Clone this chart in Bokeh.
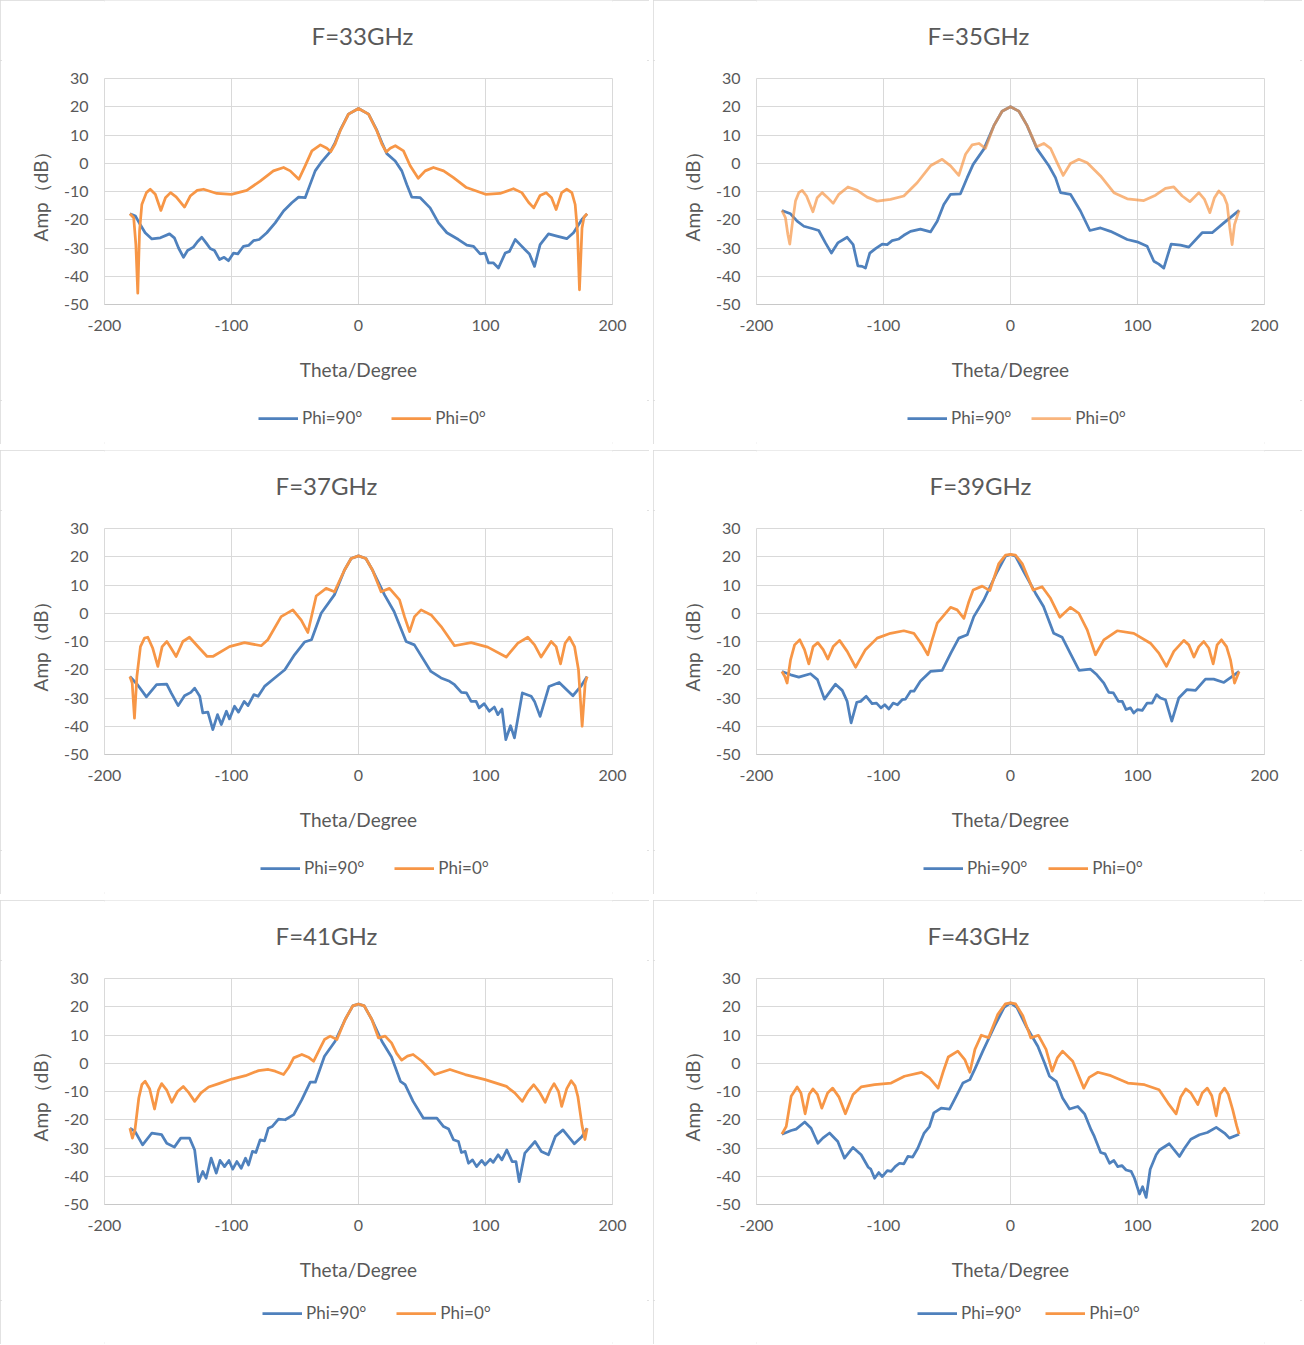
from bokeh.plotting import figure
from bokeh.models import Range1d, FixedTicker, Legend, LegendItem, Label
from bokeh.layouts import column, row
from bokeh.embed import file_html
from bokeh.resources import INLINE

# ---------------- data ----------------
X_TICKS = [-200, -100, 0, 100, 200]
Y_TICKS = [-50, -40, -30, -20, -10, 0, 10, 20, 30]
TITLES = ["F=33GHz", "F=35GHz", "F=37GHz", "F=39GHz", "F=41GHz", "F=43GHz"]
SERIES_NAMES = ["Phi=90°", "Phi=0°"]

# F = 33 GHz
theta_33_phi90 = [-180, -175.6, -171.9, -168, -162.7, -156, -148.8, -145, -141.7, -137.8,
                  -134.6, -130, -126.8, -123.4, -120, -116.8, -113.4, -109.4, -105.8, -102.4,
                  -98.4, -95, -90.6, -86.6, -82.7, -78.2, -72.2, -65.6, -59, -52.5,
                  -47.2, -42, -38.6, -34.1, -28.9, -22.3, -18.4, -14.4, -7.9, 0,
                  7.9, 14.4, 18.4, 22.3, 28.9, 34.1, 38, 42, 48.6, 56.4,
                  63, 69.6, 78.7, 85.3, 90.6, 95.8, 99.7, 102.4, 106.3, 110.2,
                  115.5, 118.9, 123.4, 127.3, 131.2, 134.6, 138.6, 143, 149.6, 156.2,
                  164, 169.3, 175.9, 180]
amp_33_phi90 = [-17.9, -18.7, -21.7, -24.6, -26.8, -26.4, -25, -26.4, -30, -33.3,
                -30.9, -29.7, -27.8, -26.2, -28.2, -30.2, -30.9, -34.1, -33.3, -34.5,
                -31.8, -32.1, -29.4, -29.1, -27.4, -27, -24.6, -21.1, -16.9, -14,
                -12, -12.2, -8.1, -2.7, 0.6, 4, 7.3, 11.7, 17.4, 19.4,
                17.4, 11.7, 7.3, 3.4, 0.8, -2.7, -7.5, -12, -12.2, -15.8,
                -21.1, -24.6, -27, -29, -29.4, -32.1, -31.8, -35.3, -35.3, -37.1,
                -31.8, -31.2, -27, -28.8, -30.6, -32.1, -36.5, -28.8, -25, -25.8,
                -26.7, -24.6, -19.9, -17.9]
theta_33_phi0 = [-180, -177, -175.3, -173.8, -172.4, -170.6, -167, -164, -160, -155.6,
                 -152, -148, -143.6, -137, -132.5, -127, -122, -111.5, -100, -88,
                 -77.4, -67, -59, -53.8, -47, -42, -36.7, -30, -24.9, -21.8,
                 -18.4, -14.4, -7.9, 0, 7.9, 14.4, 18.4, 21.8, 25, 29,
                 35.4, 40.7, 47, 52.5, 59, 67, 74.8, 85, 100, 111.5,
                 122, 128.6, 134, 138, 143, 147.8, 152, 155.6, 160, 164,
                 168, 170.6, 172.4, 174, 176, 177.6, 180]
amp_33_phi0 = [-17.9, -19.3, -28.8, -46, -24, -14.6, -10.4, -9.2, -11, -16.7,
               -12.2, -10.4, -11.9, -15.5, -11.6, -9.6, -9.2, -10.7, -11, -9.6,
               -6.3, -2.7, -1.5, -2.7, -5.7, -0.9, 4.4, 6.5, 5.3, 4.1,
               6.8, 11.5, 17.4, 19.4, 17.4, 11.5, 6.8, 4.0, 5.3, 6.2,
               4.4, -0.9, -5.3, -2.7, -1.5, -2.7, -5.1, -8.6, -11, -10.7,
               -9, -10.4, -13.9, -15.8, -11.4, -10.4, -12.2, -16.4, -10.4, -9.2,
               -10.4, -14.6, -24, -44.8, -22.9, -19, -17.9]

# F = 35 GHz
theta_35_phi90 = [-180, -173.2, -168, -162.7, -156.2, -151, -145.7, -141, -136, -128.6,
                  -123.9, -120.2, -116.8, -114.2, -110.8, -106.3, -101, -97.1, -93.2, -87.9,
                  -84, -78.7, -70.9, -63, -57.7, -52.5, -47.2, -39.4, -34.1, -29.4,
                  -21, -13.1, -6.6, 0, 6.6, 13.1, 21, 30.2, 35.4, 39.4,
                  47.2, 55.1, 62.5, 70.9, 78.7, 84, 91.9, 99.7, 107.6, 112.9,
                  116.8, 120.7, 126.5, 133.9, 140.4, 150.9, 158.8, 168, 180]
amp_35_phi90 = [-16.7, -17.9, -20.5, -22.3, -23.1, -23.8, -28.2, -31.8, -28.2, -26.2,
                -28.8, -36.3, -36.5, -37.1, -31.8, -30.2, -28.6, -28.8, -27.4, -26.8,
                -25.5, -24.1, -23.3, -24.3, -20.5, -14.6, -11, -10.8, -5.1, -0.4,
                5, 13.3, 18.4, 20, 18.4, 13.3, 5, -0.9, -5.1, -10.4,
                -11, -16.9, -23.8, -22.9, -24.1, -25.2, -27, -27.8, -29.4, -34.7,
                -35.7, -37.1, -28.6, -29, -29.7, -24.6, -24.6, -21.1, -16.7]
theta_35_phi0 = [-180, -177.2, -175.3, -173.8, -171.9, -169.3, -166.7, -164, -160.6, -155.6,
                 -152.2, -148.3, -144.4, -139.6, -135.2, -128, -120.7, -112.9, -105, -94.5,
                 -84, -73.5, -63, -53.8, -47.2, -40.7, -35.4, -30.2, -24.9, -19.7,
                 -13.1, -6.6, 0, 6.6, 13.1, 20.5, 26.2, 31.5, 36.7, 41.5,
                 47.2, 53.8, 60.4, 70.9, 81.4, 91.9, 105, 114.2, 122, 128.6,
                 135.2, 141.2, 148.3, 152.8, 157, 160.6, 164, 168, 170.6, 172.7,
                 174.5, 176.4, 180]
amp_35_phi0 = [-16.7, -19.3, -25.2, -28.6, -21.7, -13.4, -10.4, -9.6, -11.6, -17.2,
               -12.2, -10.4, -12, -14.2, -11, -8.4, -9.6, -12, -13.4, -12.8,
               -11.6, -6.9, -0.9, 1.4, -0.9, -4.3, 3.2, 6.5, 7, 5.3,
               13.3, 18.4, 20, 18.4, 13.3, 5.8, 7, 5.3, 0.2, -4.3,
               -0.1, 1.4, 0.2, -4.5, -10.4, -12.6, -13.2, -11.3, -8.9, -8.4,
               -11.6, -13.6, -10.4, -12.8, -17.5, -12.2, -9.8, -11.6, -14.6, -22.9,
               -28.8, -21.7, -16.7]

# F = 37 GHz
theta_37_phi90 = [-180, -174, -167, -159, -151, -147.5, -142, -137, -132, -129,
                  -125, -122.6, -118.6, -114.7, -111, -108, -104, -101.6, -97.6, -94.5,
                  -90, -87, -82.4, -79, -74, -66, -58, -50.4, -42.5, -37,
                  -29.4, -19, -11, -5.8, 0, 5.8, 11, 20.5, 28, 37.5,
                  44, 57, 65, 71.7, 75.6, 81, 85, 88.7, 92.6, 95,
                  99, 103, 107, 109.7, 113, 116, 119.7, 122.8, 129, 136,
                  138.6, 143, 150, 158, 168.8, 175, 180]
amp_37_phi90 = [-22.4, -25.3, -29.6, -25.3, -25.1, -28.2, -32.7, -29.2, -28, -26.5,
                -29.4, -35.3, -35, -41.2, -35.9, -39.4, -34.7, -37.4, -32.9, -35,
                -31.2, -32.7, -28.8, -29.4, -25.9, -22.9, -20, -14.7, -10.2, -9.4,
                0, 6.5, 15.3, 19.4, 20.3, 19.4, 15.3, 6.5, 0.6, -10,
                -11.2, -20.6, -22.9, -24.1, -25.3, -28, -28.2, -31.2, -31.2, -33.5,
                -32, -34.7, -33.2, -35.9, -33.9, -44.7, -39.8, -44.1, -28.2, -29.4,
                -31.2, -36.5, -25.9, -24.5, -29.2, -25.9, -22.4]
theta_37_phi0 = [-180, -178.2, -176.4, -174.5, -171.7, -168.5, -165.9, -162, -158, -154.6,
                 -150.9, -147.5, -143.6, -138.3, -133.1, -125.2, -119.2, -114.7, -101.6, -89.8,
                 -76.6, -71.4, -60.9, -51.7, -45.1, -39.9, -33.3, -25.5, -18.9, -11,
                 -5.8, 0, 5.8, 11, 17.8, 24.4, 32.3, 36.2, 40.2, 44.1,
                 49.3, 57.2, 65.1, 75.6, 88.7, 101.8, 116.3, 125.5, 133.3, 138.6,
                 143.8, 151.7, 155.6, 159.1, 162.7, 166.1, 170.1, 173.2, 176.1, 178.5,
                 180]
amp_37_phi0 = [-22.4, -24.7, -37.1, -22.4, -11.8, -8.8, -8.5, -12.4, -18.8, -11.8,
               -10, -12.4, -15.3, -10, -8.5, -12.4, -15.3, -15.3, -11.8, -10.4,
               -11.5, -9.4, -1.2, 1.2, -2.4, -6.8, 6.1, 8.8, 7.6, 15.3,
               19.4, 20.3, 19.4, 15.3, 7.6, 8.8, 4.7, -1.2, -6.5, -1.2,
               1.2, -0.6, -4.7, -11.5, -10.4, -12, -15.5, -10.6, -8.5, -11.2,
               -15.5, -10, -11.8, -17.9, -10.6, -8.5, -11.8, -20, -40, -24.7,
               -22.4]

# F = 39 GHz
theta_39_phi90 = [-180, -173, -166.7, -157.5, -152, -146.5, -137.8, -132.5, -128.6, -125.5,
                  -121, -118, -113.6, -109, -105.5, -102, -99, -95.8, -92.4, -89,
                  -85.3, -82.7, -78.7, -76, -71, -63, -53.8, -47, -40.7, -34,
                  -28.9, -21, -10.5, -3.9, 0, 3.9, 10.5, 19.7, 26, 34,
                  40.7, 47, 54, 63, 68, 73.5, 77.4, 81, 85, 88,
                  91, 94.5, 97, 100, 103.7, 107.6, 111.5, 115, 118, 122,
                  127, 132.5, 139, 145.7, 153.5, 160, 168, 173, 180]
amp_39_phi90 = [-20.6, -21.8, -22.6, -21.4, -23.5, -30.4, -25.1, -27.3, -31.2, -38.8,
                -31.5, -31.2, -29.4, -32, -31.8, -33.5, -32.4, -33.9, -31.8, -32.4,
                -30.6, -30.4, -27.6, -27.6, -24.1, -20.6, -20.2, -14.1, -8.8, -7.6,
                -1.2, 4.7, 14.7, 20.2, 20.8, 20.2, 14.7, 7.1, 2.4, -7.1,
                -8.5, -14.1, -20.2, -19.8, -21.8, -24.7, -28, -28.2, -31.2, -31.2,
                -34.1, -33.5, -35.3, -34.1, -34.4, -31.8, -31.8, -28.8, -30, -30.6,
                -38.2, -30, -27, -27.3, -23.3, -23.3, -24.5, -22.9, -20.6]
theta_39_phi0 = [-180, -177.7, -175.9, -173.2, -170, -165.9, -162.2, -158.8, -155.4, -151.7,
                 -147.5, -143.8, -139.6, -134.6, -128.6, -122, -114.2, -105, -94.5, -84,
                 -76.1, -69.6, -65.1, -61.7, -57.7, -47.2, -42, -36.7, -32.8, -29.4,
                 -22.3, -16.3, -9.2, -3.9, 0, 3.9, 9.2, 17.8, 24.9, 31.5,
                 38.8, 47.2, 53.8, 60.4, 66.9, 73.5, 84, 97.1, 110.2, 116.8,
                 122.8, 128.6, 136.5, 140.4, 144.4, 148.3, 152.2, 156.2, 159.6, 162.7,
                 166.1, 170.1, 173.2, 176.4, 180]
amp_39_phi0 = [-20.6, -22.4, -24.7, -16.5, -11.2, -9.4, -12.9, -17.9, -11.8, -10.4,
               -12.9, -16.2, -11.8, -9.6, -13.5, -19.1, -12.9, -8.8, -7.1, -6.2,
               -7.1, -11.2, -14.7, -9.4, -3.5, 2.1, 1.2, -1.8, 4.1, 8.2,
               9.6, 8, 17.6, 20.6, 20.8, 20.6, 17.6, 8.2, 9.4, 5.3,
               -1.4, 2.1, 0, -5.9, -14.7, -9.4, -6.2, -7.1, -10.6, -14.1,
               -18.8, -13.5, -9.6, -11.2, -15.5, -11.8, -10, -12.4, -17.9, -11.2,
               -9.4, -11.8, -16.5, -24.7, -20.6]

# F = 41 GHz
theta_41_phi90 = [-180, -176, -170, -162.7, -155, -151, -145, -140, -133, -129,
                  -126, -122.6, -120, -116, -112, -109, -105.5, -102, -99, -95.8,
                  -92.4, -89, -86.6, -83.5, -80.8, -77.4, -74, -71, -68, -63,
                  -57.7, -51, -44.6, -38, -34, -26.8, -18.4, -10.5, -4.5, 0,
                  4.5, 10.5, 18.4, 26, 33, 36.7, 43, 51, 61.7, 67,
                  71, 74.8, 78.7, 81, 84, 86.6, 89.8, 93, 97, 99.7,
                  103.7, 106, 110, 112.9, 116.8, 121, 124, 126.5, 131, 139,
                  144, 149.6, 155, 161, 170, 176, 180]
amp_41_phi90 = [-23, -24.1, -28.9, -24.7, -25.3, -28.3, -29.7, -26.5, -26.5, -30.7,
                -41.9, -38.3, -40.7, -33.6, -38.9, -34.4, -36.6, -34.4, -37.5, -34.8,
                -37.2, -33.6, -36, -31.2, -31.6, -27.1, -27.5, -23, -22.4, -19.8,
                -20, -18.2, -12.9, -6.7, -6.7, 2.5, 7.8, 15.5, 20.3, 21,
                20.3, 15.5, 7.8, 2.2, -6.4, -7.6, -13.5, -19.4, -19.4, -22.4,
                -23.3, -27.1, -27.7, -31.6, -31.2, -35.4, -34.2, -36.6, -34.4, -36,
                -34, -35.1, -32.4, -34.2, -30.7, -34.8, -34.8, -41.9, -31.8, -27.7,
                -31.2, -32.4, -25.9, -23.6, -28.5, -25.9, -23]
theta_41_phi0 = [-180, -178, -176, -173, -170.5, -168, -164.5, -160.6, -157.5, -155,
                 -151, -147, -142.5, -138, -133.5, -129, -124, -118, -110, -99.7,
                 -89, -78.7, -71, -65.6, -59, -55, -51, -44.6, -39, -35.4,
                 -30, -26.8, -22.3, -17, -10.5, -4.5, 0, 4.5, 10.5, 15.7,
                 21, 26, 30, 34, 38.5, 43, 50, 60, 72, 84,
                 99.7, 116.5, 123, 129, 133.5, 138, 142.5, 147, 151, 154,
                 157.5, 160, 164, 167.5, 170.5, 172.7, 176, 178.3, 180]
amp_41_phi0 = [-23, -26.5, -23.5, -12.3, -7.5, -6.4, -9, -16.2, -9.5, -7.2,
               -9.5, -13.8, -10, -8.2, -10.5, -13.5, -10.5, -8.4, -7.2, -5.6,
               -4.4, -2.6, -2.2, -2.8, -4, -1.5, 1.9, 3.1, 2, 0.7,
               5.5, 8.4, 9.6, 8.4, 15.5, 20.3, 21, 20.3, 15.5, 9,
               9.6, 7.2, 3.5, 1.1, 2.5, 3.1, 0.7, -4, -2.2, -4,
               -5.8, -8.2, -10.5, -13.5, -10, -7.6, -10.2, -13.8, -9.5, -7.2,
               -10, -15.3, -9, -6.2, -8, -11.7, -22, -27, -23]

# F = 43 GHz
theta_43_phi90 = [-180, -172.7, -168.8, -162, -157, -151.7, -147.8, -142.5, -136, -130.7,
                  -124, -117.6, -112, -110, -107, -103.7, -101, -97, -94, -90.8,
                  -87.4, -84, -80.8, -77, -73, -68, -63.8, -60.4, -54.6, -48,
                  -42.8, -37.5, -32, -28, -21.8, -12.6, -5, 0, 5, 12.3,
                  21.5, 26.8, 30.7, 36, 41, 46.5, 53, 58.3, 63.5, 66,
                  71, 74.5, 78, 81.4, 84.5, 87.7, 91, 95, 97.6, 101.6,
                  104, 106.8, 110, 114.7, 117.3, 125, 133, 137, 142, 148.8,
                  155, 162, 168.5, 172.4, 180]
amp_43_phi90 = [-25.1, -23.8, -23.3, -20.8, -23, -28.3, -26.5, -24.7, -27.7, -33.6,
                -29.8, -32.4, -36.8, -37.5, -40.7, -38.7, -40.1, -38, -38.3, -36.6,
                -35.4, -35.6, -33, -33.2, -30.1, -24.7, -22.4, -17.6, -15.9, -16.2,
                -11.7, -7, -5.8, -2, 4.3, 13.1, 19.8, 21.4, 19.8, 13.1,
                6, 0.1, -4.6, -6.4, -12.3, -16.2, -15.3, -17.9, -23.6, -25.9,
                -31.6, -32.1, -35.4, -34.4, -36.6, -36.2, -37.8, -38.3, -40.7, -46.3,
                -43.7, -47.5, -37.5, -32.4, -30.7, -28.5, -33, -30.1, -26.9, -25.3,
                -24.5, -22.7, -24.7, -26.5, -25.1]
theta_43_phi0 = [-180, -176.6, -172.7, -168, -165, -161.7, -158.5, -155.6, -152, -148.6,
                 -144, -140, -135, -130, -124, -117.6, -107, -94, -83.5, -70,
                 -63.8, -57, -53, -49, -41.5, -36, -32, -28, -23, -17.3,
                 -10, -4, 0, 4, 9.7, 16, 22, 28, 32.8, 37,
                 41, 49, 57.7, 62, 68.8, 79, 92.4, 105.5, 117, 124,
                 130.4, 134, 138, 142, 147.5, 151, 155, 158.5, 162, 165,
                 168.5, 171.5, 175, 178, 180]
amp_43_phi0 = [-25.1, -22.4, -11.7, -8.4, -10.5, -17.9, -11, -9.1, -11, -15.9,
               -10.5, -8.8, -12, -17.9, -11.1, -8.4, -7.6, -7, -4.6, -3.2,
               -5.2, -8.8, -3, 2.2, 4.3, 1.3, -3.2, 4.9, 9.9, 9,
               17.3, 21, 21.4, 21, 16.8, 9, 9.9, 4.9, -2.8, 2,
               4.3, 0.7, -8.8, -5, -3.2, -4.4, -7, -7.6, -9.4, -14.1,
               -17.9, -12, -9.1, -10.5, -14.6, -10.5, -8.8, -11.5, -18.6, -11,
               -8.8, -11, -16.5, -22, -25.1]

# ---------------- styling / layout ----------------
BLUE = "#4F81BD"
ORANGE = "#F79646"
FONT = "Lato"
TXT = "#595959"
GRID = "#d9d9d9"
W = 649
TITLE_H, MAIN_H, LEG_H = 60, 340, 44
MAIN_TOP, FRAME_H = 18, 226
MAIN_BOTTOM = MAIN_H - MAIN_TOP - FRAME_H
# per panel: (left border, right border, title centre x in frame, legend x in frame,
#             legend bottom y, legend spacing)
PANEL_CFG = [
    (104, 37, 258, 154, 16, 29),
    (103, 38, 222, 151, 16, 20),
    (104, 37, 222, 156, 16, 30),
    (103, 38, 224, 167, 16, 21),
    (104, 37, 222, 158, 21, 30),
    (103, 38, 222, 161, 21, 24),
]


def blank_fig(height, left, right):
    # a strip with no axes / grids; its ranges lie far away from the data so that the
    # legend's renderers draw nothing inside it
    f = figure(width=W, height=height, output_backend="svg", toolbar_location=None,
               x_axis_location=None, y_axis_location=None,
               x_range=Range1d(1000, 1001), y_range=Range1d(1000, 1001),
               min_border_left=left, min_border_right=right,
               min_border_top=0, min_border_bottom=0)
    f.grid.visible = False
    f.outline_line_color = None
    f.background_fill_color = "white"
    f.border_fill_color = "white"
    return f


def build(idx, tb, ab, to, ao, orange_alpha=1.0):
    left, right, title_x, leg_x, leg_y, leg_sp = PANEL_CFG[idx]

    # title strip
    ft = blank_fig(TITLE_H, left, right)
    ft.add_layout(Label(x=title_x, y=TITLE_H - 35, x_units="screen", y_units="screen",
                        text=TITLES[idx], text_align="center", text_baseline="middle",
                        text_font=FONT, text_font_size="24px", text_color=TXT))

    # main chart
    p = figure(width=W, height=MAIN_H, output_backend="svg", toolbar_location=None,
               x_range=Range1d(-200, 200), y_range=Range1d(-50, 30),
               min_border_left=left, min_border_right=right,
               min_border_top=MAIN_TOP, min_border_bottom=MAIN_BOTTOM)
    p.background_fill_color = "white"
    p.border_fill_color = "white"
    p.outline_line_color = GRID
    p.outline_line_width = 1

    p.line(tb, ab, line_color=BLUE, line_width=2.75, line_join="round")
    p.line(to, ao, line_color=ORANGE, line_width=2.75, line_join="round",
           line_alpha=orange_alpha)

    p.xaxis.ticker = FixedTicker(ticks=X_TICKS)
    p.yaxis.ticker = FixedTicker(ticks=Y_TICKS)
    p.xaxis.major_label_overrides = {t: str(t) for t in X_TICKS}
    p.yaxis.major_label_overrides = {t: str(t) for t in Y_TICKS}
    p.xgrid.ticker = FixedTicker(ticks=X_TICKS)
    p.ygrid.ticker = FixedTicker(ticks=Y_TICKS)
    for g in (p.xgrid, p.ygrid):
        g.grid_line_color = GRID
        g.grid_line_width = 1
    for ax in (p.xaxis, p.yaxis):
        ax.axis_line_color = None
        ax.major_tick_line_color = None
        ax.minor_tick_line_color = None
        ax.major_tick_out = 0
        ax.major_tick_in = 0
        ax.major_label_text_font = FONT
        ax.major_label_text_font_size = "16px"
        ax.major_label_text_color = TXT
        ax.axis_label_text_font = FONT
        ax.axis_label_text_font_size = "19px"
        ax.axis_label_text_font_style = "normal"
        ax.axis_label_text_color = TXT
    p.xaxis.axis_line_color = "#c8c8c8"
    p.xaxis.axis_label = "Theta/Degree"
    p.yaxis.axis_label = "Amp（dB）"
    p.xaxis.major_label_standoff = 15
    p.xaxis.axis_label_standoff = 24
    p.yaxis.major_label_standoff = 16
    p.yaxis.axis_label_standoff = 9

    # legend strip (its lines reuse the series, which lie outside the strip's ranges)
    fl = blank_fig(LEG_H, left, right)
    lb = fl.line(tb, ab, line_color=BLUE, line_width=2.75)
    lo = fl.line(to, ao, line_color=ORANGE, line_width=2.75, line_alpha=orange_alpha)
    legend = Legend(items=[LegendItem(label=SERIES_NAMES[0], renderers=[lb]),
                           LegendItem(label=SERIES_NAMES[1], renderers=[lo])],
                    orientation="horizontal", location=(leg_x, leg_y))
    legend.label_text_font = FONT
    legend.label_text_font_size = "17px"
    legend.label_text_color = TXT
    legend.glyph_width = 40
    legend.glyph_height = 20
    legend.label_height = 20
    legend.label_standoff = 4
    legend.spacing = leg_sp
    legend.padding = 0
    legend.margin = 0
    legend.border_line_color = None
    legend.background_fill_alpha = 0
    fl.add_layout(legend)

    return column(ft, p, fl, spacing=0,
                  styles={"outline": "2px solid #d9d9d9", "outline-offset": "-2px"})


c1 = build(0, theta_33_phi90, amp_33_phi90, theta_33_phi0, amp_33_phi0)
c2 = build(1, theta_35_phi90, amp_35_phi90, theta_35_phi0, amp_35_phi0, orange_alpha=0.7)
c3 = build(2, theta_37_phi90, amp_37_phi90, theta_37_phi0, amp_37_phi0)
c4 = build(3, theta_39_phi90, amp_39_phi90, theta_39_phi0, amp_39_phi0)
c5 = build(4, theta_41_phi90, amp_41_phi90, theta_41_phi0, amp_41_phi0)
c6 = build(5, theta_43_phi90, amp_43_phi90, theta_43_phi0, amp_43_phi0)

layout = column(row(c1, c2, spacing=4), row(c3, c4, spacing=4), row(c5, c6, spacing=4),
                spacing=6)

open("out.html", "w").write(file_html(layout, INLINE))
